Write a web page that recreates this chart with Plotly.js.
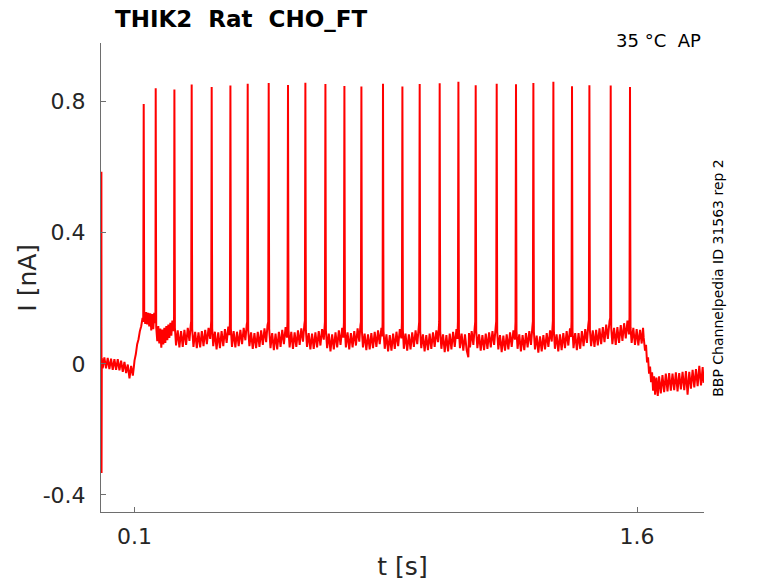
<!DOCTYPE html>
<html>
<head>
<meta charset="utf-8">
<script src="https://cdn.plot.ly/plotly-3.0.1.min.js"></script>
<style>
  html, body { margin: 0; padding: 0; background: #fff; }
  #chart { width: 778px; height: 583px; }
</style>
</head>
<body>
<div id="chart"></div>
<script>
// Current clamp trace (t in s, I in nA)

// before the step + onset ramp
const preT = [0.0012, 0.0016, 0.0024, 0.005, 0.010, 0.015, 0.020, 0.025, 0.030, 0.035,
              0.040, 0.045, 0.050, 0.055, 0.060, 0.065, 0.070, 0.075, 0.080, 0.085,
              0.090, 0.095, 0.098, 0.100, 0.104, 0.108, 0.112, 0.116, 0.120, 0.124,
              0.126];
const preI = [0.586, -0.333, 0.018, -0.014, 0.020, -0.014, 0.018, -0.016, 0.016, -0.018,
              0.014, -0.018, 0.014, -0.020, 0.010, -0.024, 0.006, -0.028, -0.002, -0.044,
              -0.006, -0.036, -0.010, 0.010, 0.030, 0.060, 0.075, 0.100, 0.115, 0.140,
              0.128];

// spike train, one line per spike (peak first, then the trough until next spike)
const trainT = [
  0.1275, 0.1290, 0.1320, 0.1350, 0.1380, 0.1410, 0.1440, 0.1470, 0.1500, 0.1530, 0.1560, 0.1590, 0.1615, 0.1625,
  0.1633, 0.1648, 0.1680, 0.1710, 0.1740, 0.1770, 0.1800, 0.1830, 0.1860, 0.1890, 0.1920, 0.1950, 0.1980, 0.2010, 0.2040, 0.2070, 0.2100, 0.2130, 0.2160, 0.2180,
  0.2191, 0.2206, 0.2240, 0.2290, 0.2340, 0.2390, 0.2440, 0.2490, 0.2540, 0.2590, 0.2640, 0.2680, 0.2692,
  0.2707, 0.2722, 0.2760, 0.2810, 0.2860, 0.2910, 0.2960, 0.3010, 0.3060, 0.3110, 0.3160, 0.3210, 0.3260, 0.3290,
  0.3304, 0.3319, 0.3350, 0.3400, 0.3450, 0.3500, 0.3550, 0.3600, 0.3650, 0.3700, 0.3750, 0.3800, 0.3835, 0.3848,
  0.3863, 0.3878, 0.3910, 0.3960, 0.4010, 0.4060, 0.4110, 0.4160, 0.4210, 0.4260, 0.4310, 0.4350, 0.4364,
  0.4379, 0.4394, 0.4430, 0.4480, 0.4530, 0.4580, 0.4630, 0.4680, 0.4730, 0.4780, 0.4830, 0.4880, 0.4930, 0.4970, 0.4991,
  0.5006, 0.5021, 0.5060, 0.5110, 0.5160, 0.5210, 0.5260, 0.5310, 0.5360, 0.5410, 0.5460, 0.5510, 0.5550, 0.5567,
  0.5582, 0.5597, 0.5630, 0.5680, 0.5730, 0.5780, 0.5830, 0.5880, 0.5930, 0.5980, 0.6030, 0.6070, 0.6086,
  0.6101, 0.6116, 0.6150, 0.6200, 0.6250, 0.6300, 0.6350, 0.6400, 0.6450, 0.6500, 0.6550, 0.6600, 0.6650, 0.6684,
  0.6699, 0.6714, 0.6750, 0.6800, 0.6850, 0.6900, 0.6950, 0.7000, 0.7050, 0.7100, 0.7150, 0.7200, 0.7235, 0.7251,
  0.7266, 0.7281, 0.7310, 0.7360, 0.7410, 0.7460, 0.7510, 0.7560, 0.7610, 0.7660, 0.7710, 0.7745, 0.7758,
  0.7773, 0.7788, 0.7820, 0.7870, 0.7920, 0.7970, 0.8020, 0.8070, 0.8120, 0.8170, 0.8220, 0.8270, 0.8320, 0.8370, 0.8395, 0.8405,
  0.8418, 0.8433, 0.8470, 0.8520, 0.8570, 0.8620, 0.8670, 0.8720, 0.8770, 0.8820, 0.8870, 0.8920, 0.8965, 0.8982,
  0.8997, 0.9012, 0.9040, 0.9090, 0.9140, 0.9190, 0.9240, 0.9290, 0.9340, 0.9390, 0.9440, 0.9485, 0.9498,
  0.9513, 0.9528, 0.9560, 0.9610, 0.9660, 0.9710, 0.9760, 0.9810, 0.9860, 0.9910, 0.9960, 1.0010, 1.0060, 1.0095,
  1.0110, 1.0125, 1.0160, 1.0210, 1.0260, 1.0310, 1.0360, 1.0410, 1.0460, 1.0510, 1.0560, 1.0610, 1.0640, 1.0654,
  1.0669, 1.0684, 1.0715, 1.0765, 1.0815, 1.0865, 1.0915, 1.0965, 1.0985, 1.1015, 1.1065, 1.1115, 1.1155, 1.1170,
  1.1185, 1.1200, 1.1235, 1.1285, 1.1335, 1.1385, 1.1435, 1.1485, 1.1535, 1.1585, 1.1635, 1.1685, 1.1735, 1.1780, 1.1797,
  1.1812, 1.1827, 1.1860, 1.1910, 1.1960, 1.2010, 1.2060, 1.2110, 1.2160, 1.2210, 1.2260, 1.2310, 1.2355, 1.2373,
  1.2388, 1.2403, 1.2435, 1.2485, 1.2535, 1.2585, 1.2635, 1.2685, 1.2735, 1.2785, 1.2835, 1.2875, 1.2892,
  1.2907, 1.2922, 1.2955, 1.3005, 1.3055, 1.3105, 1.3155, 1.3205, 1.3255, 1.3305, 1.3355, 1.3405, 1.3455, 1.3489,
  1.3504, 1.3519, 1.3550, 1.3600, 1.3650, 1.3700, 1.3750, 1.3800, 1.3850, 1.3900, 1.3950, 1.4000, 1.4030, 1.4045,
  1.4060, 1.4075, 1.4105, 1.4155, 1.4205, 1.4255, 1.4305, 1.4355, 1.4405, 1.4455, 1.4505, 1.4545, 1.4564,
  1.4579, 1.4594, 1.4630, 1.4680, 1.4730, 1.4780, 1.4830, 1.4880, 1.4930, 1.4980, 1.5030, 1.5080, 1.5130, 1.5180, 1.5200,
  1.5215, 1.5230, 1.5265, 1.5315, 1.5365, 1.5415, 1.5465, 1.5515, 1.5565, 1.5615, 1.5665, 1.5715, 1.5760, 1.5776,
  1.5791, 1.5806, 1.5840, 1.5890, 1.5940, 1.5990, 1.6040, 1.6090, 1.6140, 1.6180, 1.6200
];
const trainI = [
  0.793, 0.156, 0.122, 0.158, 0.120, 0.156, 0.114, 0.154, 0.102, 0.152, 0.106, 0.156, 0.124, 0.150,
  0.841, 0.112, 0.069, 0.115, 0.062, 0.108, 0.049, 0.105, 0.059, 0.110, 0.064, 0.115, 0.072, 0.120, 0.079, 0.125, 0.086, 0.132, 0.100, 0.135,
  0.837, 0.110, 0.056, 0.102, 0.050, 0.100, 0.052, 0.104, 0.058, 0.110, 0.070, 0.120, 0.130,
  0.852, 0.106, 0.052, 0.098, 0.048, 0.096, 0.050, 0.100, 0.054, 0.104, 0.060, 0.110, 0.076, 0.132,
  0.845, 0.108, 0.054, 0.098, 0.044, 0.096, 0.048, 0.100, 0.054, 0.106, 0.064, 0.114, 0.088, 0.130,
  0.849, 0.106, 0.052, 0.100, 0.050, 0.098, 0.054, 0.104, 0.060, 0.110, 0.072, 0.120, 0.128,
  0.855, 0.104, 0.054, 0.096, 0.046, 0.094, 0.048, 0.098, 0.052, 0.102, 0.058, 0.108, 0.066, 0.118, 0.128,
  0.857, 0.106, 0.048, 0.094, 0.042, 0.092, 0.044, 0.098, 0.052, 0.104, 0.060, 0.112, 0.080, 0.130,
  0.851, 0.104, 0.050, 0.098, 0.046, 0.096, 0.052, 0.102, 0.058, 0.108, 0.068, 0.120, 0.132,
  0.858, 0.102, 0.052, 0.094, 0.044, 0.092, 0.046, 0.096, 0.050, 0.100, 0.056, 0.106, 0.074, 0.128,
  0.854, 0.102, 0.048, 0.092, 0.038, 0.090, 0.044, 0.096, 0.050, 0.102, 0.058, 0.110, 0.080, 0.128,
  0.848, 0.102, 0.050, 0.096, 0.044, 0.094, 0.050, 0.100, 0.056, 0.108, 0.068, 0.118, 0.128,
  0.846, 0.100, 0.050, 0.092, 0.042, 0.090, 0.044, 0.094, 0.048, 0.098, 0.052, 0.102, 0.060, 0.110, 0.084, 0.126,
  0.855, 0.100, 0.046, 0.090, 0.038, 0.088, 0.040, 0.092, 0.046, 0.098, 0.054, 0.106, 0.078, 0.128,
  0.846, 0.102, 0.046, 0.092, 0.040, 0.090, 0.044, 0.096, 0.052, 0.102, 0.060, 0.112, 0.128,
  0.854, 0.100, 0.048, 0.090, 0.038, 0.088, 0.042, 0.092, 0.046, 0.096, 0.052, 0.102, 0.066, 0.128,
  0.856, 0.100, 0.046, 0.090, 0.036, 0.088, 0.038, 0.092, 0.044, 0.098, 0.052, 0.106, 0.076, 0.130,
  0.861, 0.102, 0.048, 0.092, 0.040, 0.090, 0.042, 0.020, 0.094, 0.050, 0.100, 0.058, 0.110, 0.128,
  0.850, 0.100, 0.048, 0.090, 0.040, 0.088, 0.042, 0.092, 0.046, 0.096, 0.050, 0.100, 0.058, 0.110, 0.130,
  0.855, 0.098, 0.044, 0.088, 0.036, 0.086, 0.040, 0.090, 0.044, 0.096, 0.052, 0.102, 0.074, 0.128,
  0.853, 0.100, 0.046, 0.090, 0.038, 0.088, 0.042, 0.094, 0.050, 0.100, 0.058, 0.110, 0.130,
  0.857, 0.098, 0.044, 0.086, 0.034, 0.084, 0.038, 0.088, 0.044, 0.094, 0.052, 0.102, 0.068, 0.132,
  0.861, 0.100, 0.046, 0.090, 0.038, 0.090, 0.042, 0.094, 0.048, 0.100, 0.056, 0.108, 0.082, 0.130,
  0.847, 0.100, 0.048, 0.094, 0.042, 0.094, 0.046, 0.100, 0.054, 0.106, 0.064, 0.118, 0.134,
  0.850, 0.102, 0.054, 0.102, 0.052, 0.104, 0.056, 0.108, 0.060, 0.112, 0.066, 0.120, 0.076, 0.130, 0.140,
  0.849, 0.110, 0.060, 0.110, 0.058, 0.112, 0.064, 0.118, 0.070, 0.124, 0.078, 0.132, 0.090, 0.142,
  0.845, 0.112, 0.064, 0.110, 0.058, 0.106, 0.056, 0.104, 0.062, 0.110, 0.080
];

// end of the step, back to holding
const offT = [1.6240, 1.6270, 1.6300, 1.6330, 1.6360, 1.6390, 1.6420, 1.6450, 1.6480, 1.6510,
              1.6540, 1.6580, 1.6620, 1.6660, 1.6710, 1.6760, 1.6810, 1.6860, 1.6910, 1.6960,
              1.7010, 1.7060, 1.7110, 1.7160, 1.7210, 1.7260, 1.7310, 1.7360, 1.7410, 1.7460,
              1.7510, 1.7560, 1.7610, 1.7660, 1.7710, 1.7760, 1.7810, 1.7860, 1.7910, 1.7960,
              1.7990];
const offI = [0.040, 0.058, 0.004, 0.020, -0.030, -0.008, -0.056, -0.026, -0.082, -0.038,
              -0.094, -0.042, -0.098, -0.038, -0.090, -0.034, -0.086, -0.030, -0.084, -0.028,
              -0.082, -0.030, -0.080, -0.026, -0.084, -0.028, -0.078, -0.024, -0.080, -0.022,
              -0.094, -0.024, -0.076, -0.018, -0.072, -0.016, -0.068, -0.006, -0.066, -0.010,
              -0.058];

// axis ticks
const xTicks = [0.1, 1.6];
const xTickText = ['0.1', '1.6'];
const yTicks = [-0.4, 0, 0.4, 0.8];
const yTickText = ['-0.4', '0', '0.4', '0.8'];

const FONT = 'DejaVu Sans, sans-serif';
const AXIS_GRAY = '#6e6e6e';
const TEXT_DARK = '#262626';
const nb = '\u00a0';

const trace = {
    x: preT.concat(trainT, offT),
    y: preI.concat(trainI, offI),
    type: 'scatter',
    mode: 'lines',
    // keep every noise point, plotly would smooth them away otherwise
    line: { color: '#ff0000', width: 2, simplify: false },
    hoverinfo: 'skip'
};

const axisCommon = {
    showgrid: false,
    zeroline: false,
    showline: true,
    linecolor: AXIS_GRAY,
    linewidth: 1,
    ticks: 'inside',
    ticklen: 5,
    tickcolor: AXIS_GRAY,
    tickwidth: 1,
    tickfont: { family: FONT, size: 22, color: TEXT_DARK },
    fixedrange: true
};

const layout = {
    width: 778,
    height: 583,
    margin: { l: 101, r: 74, t: 43, b: 71 },
    paper_bgcolor: '#ffffff',
    plot_bgcolor: '#ffffff',
    showlegend: false,
    xaxis: Object.assign({}, axisCommon, {
        range: [0, 1.8],
        tickmode: 'array',
        tickvals: xTicks,
        ticktext: xTickText,
        ticklabelstandoff: 5,
        title: { text: 't [s]', font: { family: FONT, size: 25, color: TEXT_DARK }, standoff: 9 }
    }),
    yaxis: Object.assign({}, axisCommon, {
        range: [-0.452, 0.979],
        tickmode: 'array',
        tickvals: yTicks,
        ticktext: yTickText,
        ticklabelstandoff: 10
    }),
    annotations: [
        {
            // chart title
            text: '<b>THIK2' + nb + nb + 'Rat' + nb + nb + 'CHO_FT</b>',
            xref: 'paper', yref: 'paper',
            x: 0.0195, y: 1.051,
            xanchor: 'left', yanchor: 'middle',
            showarrow: false,
            font: { family: FONT, size: 23, color: '#000000' }
        },
        {
            text: '35 °C' + nb + nb + 'AP',
            xref: 'paper', yref: 'paper',
            x: 0.998, y: 1.006,
            xanchor: 'right', yanchor: 'middle',
            showarrow: false,
            font: { family: FONT, size: 18, color: '#000000' }
        },
        {
            text: 'BBP Channelpedia ID 31563 rep 2',
            xref: 'paper', yref: 'paper',
            x: 1.022, y: 0.5,
            xanchor: 'center', yanchor: 'middle',
            textangle: -90,
            showarrow: false,
            font: { family: FONT, size: 14, color: '#000000' }
        },
        {
            // y axis title, placed by hand to sit where the original has it
            text: 'I [nA]',
            xref: 'paper', yref: 'paper',
            x: -0.1224, y: 0.5,
            xanchor: 'center', yanchor: 'middle',
            textangle: -90,
            showarrow: false,
            font: { family: FONT, size: 25, color: TEXT_DARK }
        }
    ]
};

Plotly.newPlot('chart', [trace], layout, { displayModeBar: false, staticPlot: true });
</script>
</body>
</html>
